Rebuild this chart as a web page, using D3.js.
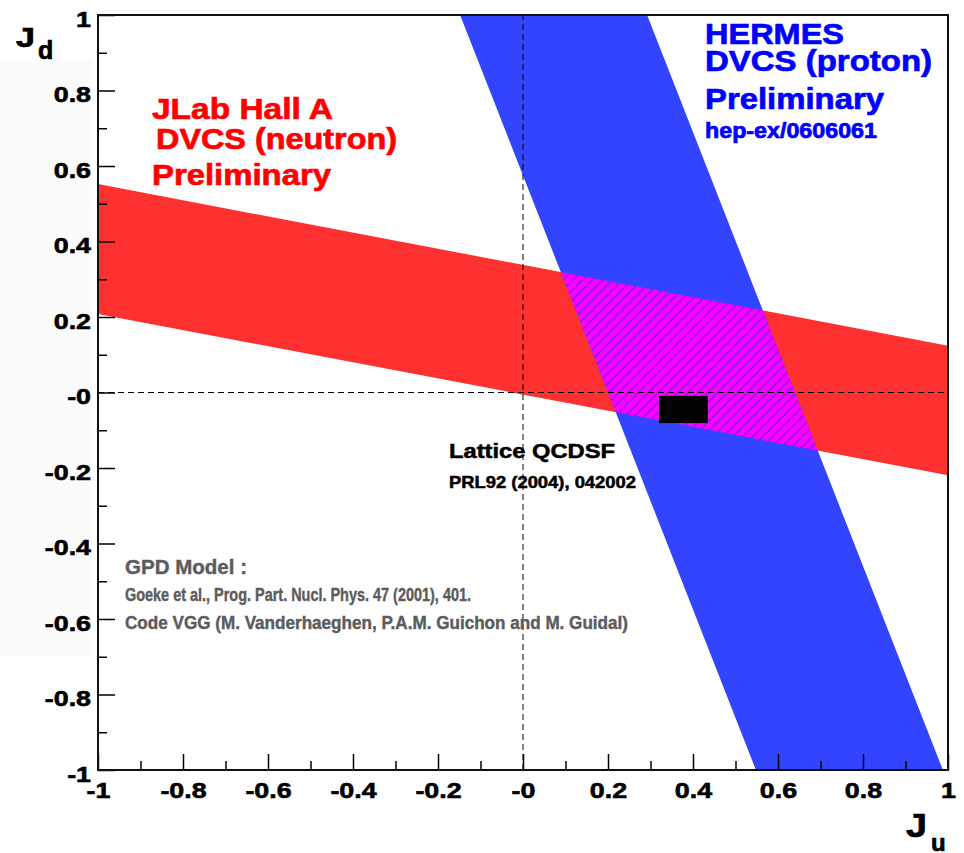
<!DOCTYPE html>
<html>
<head>
<meta charset="utf-8">
<script src="https://cdn.jsdelivr.net/npm/d3@7"></script>
<style>
  body { margin: 0; background: #fff; }
  svg { display: block; font-family: "Liberation Sans", Arial, sans-serif; font-weight: bold; }
</style>
</head>
<body>
<svg id="chart" width="964" height="853"></svg>
<script>
"use strict";

// axis ticks (ROOT style labels, zero shown as "-0")
const majorTicks = [-1, -0.8, -0.6, -0.4, -0.2, 0, 0.2, 0.4, 0.6, 0.8, 1];
const minorTicks = [-0.9, -0.7, -0.5, -0.3, -0.1, 0.1, 0.3, 0.5, 0.7, 0.9];
const tickLabels = ['-1', '-0.8', '-0.6', '-0.4', '-0.2', '-0', '0.2', '0.4', '0.6', '0.8', '1'];

// bands as [Ju, Jd] corners
const jlabBand = [[-1, 0.552], [1, 0.124], [1, -0.219], [-1, 0.208]];
const hermesBand = [[-0.148, 1], [0.292, 1], [0.988, -1], [0.548, -1]];

// lattice QCDSF box
const latticeJu = [0.32, 0.435];
const latticeJd = [-0.081, -0.009];

const jlabLines = ['JLab Hall A', 'DVCS (neutron)', 'Preliminary'];
const hermesLines = ['HERMES', 'DVCS (proton)', 'Preliminary', 'hep-ex/0606061'];
const latticeLines = ['Lattice QCDSF', 'PRL92 (2004), 042002'];
const gpdLines = ['GPD Model :', 'Goeke et al., Prog. Part. Nucl. Phys. 47 (2001), 401.',
    'Code VGG (M. Vanderhaeghen, P.A.M. Guichon and M. Guidal)'];

const LEFT = 98, RIGHT = 948, TOP = 15, BOTTOM = 770;

const svg = d3.select('#chart');
const x = d3.scaleLinear().domain([-1, 1]).range([LEFT, RIGHT]);
const y = d3.scaleLinear().domain([-1, 1]).range([BOTTOM, TOP]);

// very faint shade left of the frame
svg.append('rect').attr('x', 0).attr('y', 60).attr('width', 92).attr('height', 595).attr('fill', '#fbfbfb');

const defs = svg.append('defs');
defs.append('clipPath').attr('id', 'plot-clip')
    .append('rect').attr('x', LEFT).attr('y', TOP).attr('width', RIGHT - LEFT).attr('height', BOTTOM - TOP);

const line = d3.line().x(d => x(d[0])).y(d => y(d[1]));
const polygonPath = pts => line(pts) + 'Z';

defs.append('clipPath').attr('id', 'jlab-clip')
    .append('path').attr('d', polygonPath(jlabBand));

const hatch = defs.append('pattern').attr('id', 'hatch')
    .attr('patternUnits', 'userSpaceOnUse').attr('width', 7).attr('height', 7)
    .attr('patternTransform', 'rotate(45)');
hatch.append('rect').attr('width', 7).attr('height', 7).attr('fill', '#ff00ff');
hatch.append('line').attr('x1', 1).attr('x2', 1).attr('y1', 0).attr('y2', 7)
    .attr('stroke', '#2a2ad8').attr('stroke-width', 0.9);

const plot = svg.append('g').attr('clip-path', 'url(#plot-clip)');

plot.append('path').attr('d', polygonPath(jlabBand)).attr('fill', '#ff3030');
plot.append('path').attr('d', polygonPath(hermesBand)).attr('fill', '#3344ff');
// overlap of the two bands
plot.append('g').attr('clip-path', 'url(#jlab-clip)')
    .append('path').attr('d', polygonPath(hermesBand)).attr('fill', 'url(#hatch)');

// zero lines
plot.append('line').attr('x1', x(0)).attr('x2', x(0)).attr('y1', y(-1)).attr('y2', y(1))
    .attr('stroke', '#000').attr('stroke-width', 1).attr('stroke-dasharray', '6,4');
plot.append('line').attr('x1', x(-1)).attr('x2', x(1)).attr('y1', y(0)).attr('y2', y(0))
    .attr('stroke', '#000').attr('stroke-width', 1).attr('stroke-dasharray', '6,4');

plot.append('rect')
    .attr('x', x(latticeJu[0])).attr('y', y(latticeJd[1]))
    .attr('width', x(latticeJu[1]) - x(latticeJu[0]))
    .attr('height', y(latticeJd[0]) - y(latticeJd[1]))
    .attr('fill', '#000');

// text blocks: [x, baseline, width, size]
function textBlock(lines, layout, color, weight) {
    lines.forEach((t, i) => {
        const [tx, ty, tw, ts] = layout[i];
        svg.append('text').attr('x', tx).attr('y', ty)
            .attr('font-size', ts).attr('fill', color)
            .attr('stroke', color).attr('stroke-width', weight)
            .attr('textLength', tw).attr('lengthAdjust', 'spacingAndGlyphs')
            .text(t);
    });
}
textBlock(jlabLines, [[152, 118.5, 181, 30], [156, 149, 241, 30], [152, 185, 179, 30]], '#ff0000', 0.7);
textBlock(hermesLines, [[705, 43.5, 139, 30], [705, 71, 227, 30], [705, 108.5, 179, 30], [705, 137.5, 172, 21.5]], '#0000ff', 0.7);
textBlock(latticeLines, [[449, 457.5, 166, 20], [449, 487.5, 187, 16.5]], '#000', 0.5);
textBlock(gpdLines, [[125, 574, 122, 20], [125, 600.5, 346, 17.5], [125, 629, 503, 17.5]], '#5c5c5c', 0.4);

// axes
const fmt = d => tickLabels[majorTicks.indexOf(d)];
const SX = 1.22;

const xMinor = svg.append('g').attr('transform', `translate(0,${BOTTOM})`)
    .call(d3.axisBottom(x).tickValues(minorTicks).tickSizeInner(-9).tickSizeOuter(0).tickFormat(''));
const xMajor = svg.append('g').attr('transform', `translate(0,${BOTTOM})`)
    .call(d3.axisBottom(x).tickValues(majorTicks).tickSizeInner(-16).tickSizeOuter(0).tickPadding(12).tickFormat(fmt));
const yMinor = svg.append('g').attr('transform', `translate(${LEFT},0)`)
    .call(d3.axisLeft(y).tickValues(minorTicks).tickSizeInner(-9).tickSizeOuter(0).tickFormat(''));
const yMajor = svg.append('g').attr('transform', `translate(${LEFT},0)`)
    .call(d3.axisLeft(y).tickValues(majorTicks).tickSizeInner(-17).tickSizeOuter(0).tickFormat(fmt));

for (const g of [xMinor, xMajor, yMinor, yMajor]) {
    g.select('.domain').remove();
    g.selectAll('.tick line').attr('stroke', '#000').attr('stroke-width', 1.5);
}
for (const g of [xMajor, yMajor]) {
    g.selectAll('.tick text')
        .attr('font-size', 22).attr('font-family', '"Liberation Sans", Arial, sans-serif').attr('font-weight', 'bold')
        .attr('fill', '#000').attr('stroke', '#000').attr('stroke-width', 0.6)
        .attr('transform', `scale(${SX},1)`);
}
yMajor.selectAll('.tick text').attr('x', -7 / SX).attr('dy', '0.51em');

// frame
svg.append('rect').attr('x', LEFT).attr('y', TOP).attr('width', RIGHT - LEFT).attr('height', BOTTOM - TOP)
    .attr('fill', 'none').attr('stroke', '#111').attr('stroke-width', 2);

// axis titles
const jd = svg.append('text').attr('x', 16).attr('y', 47).attr('font-size', 27).attr('fill', '#000')
    .attr('stroke', '#000').attr('stroke-width', 0.7);
jd.append('tspan').attr('textLength', 19).attr('lengthAdjust', 'spacingAndGlyphs').text('J');
jd.append('tspan').attr('x', 38).attr('y', 59).attr('font-size', 25).text('d');

const ju = svg.append('text').attr('x', 906).attr('y', 837).attr('font-size', 33).attr('fill', '#000')
    .attr('stroke', '#000').attr('stroke-width', 0.7);
ju.append('tspan').attr('textLength', 21).attr('lengthAdjust', 'spacingAndGlyphs').text('J');
ju.append('tspan').attr('x', 931).attr('y', 851).attr('font-size', 24).text('u');
</script>
</body>
</html>
